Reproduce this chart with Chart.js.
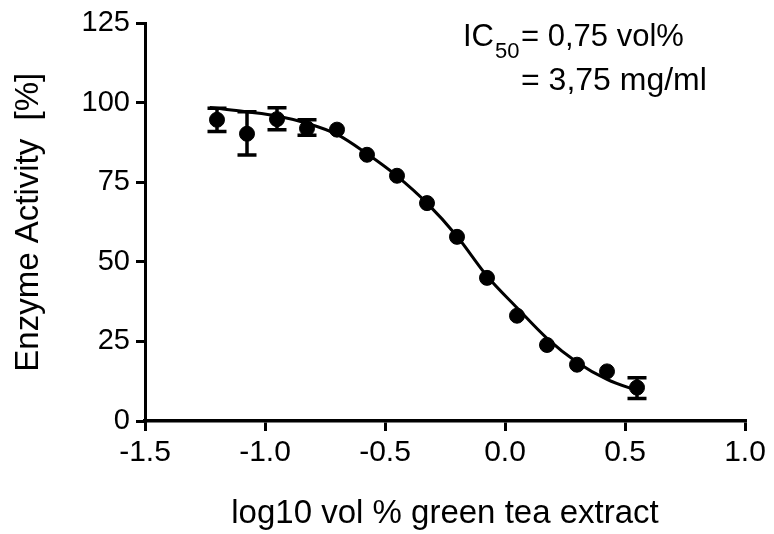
<!DOCTYPE html>
<html>
<head>
<meta charset="utf-8">
<script src="https://cdn.jsdelivr.net/npm/chart.js@4/dist/chart.umd.min.js"></script>
<style>
  html, body { margin: 0; padding: 0; background: #fff; }
  #wrap { width: 774px; height: 534px; }
</style>
</head>
<body>
<div id="wrap"><canvas id="chart" width="774" height="534"></canvas></div>
<script>
// measured points (log10 vol %, activity %)
const logConc = [-1.2, -1.075, -0.95, -0.825, -0.7, -0.575, -0.45, -0.325, -0.2, -0.075, 0.05, 0.175, 0.3, 0.425, 0.55];
const activity = [94.7, 90.3, 94.9, 92.0, 91.6, 83.7, 77.1, 68.5, 57.9, 45.0, 33.1, 23.9, 17.7, 15.6, 10.5];
// error bar ends (null = hidden behind marker)
const errLow  = [91.0, 83.6, 91.6, 89.8, null, null, null, null, null, null, null, null, null, null, 7.1];
const errHigh = [98.3, 97.2, 98.5, 94.7, null, null, null, null, null, null, null, null, null, null, 13.6];

// fitted curve
const fitX = [-1.23, -1.2, -1.075, -0.95, -0.825, -0.7, -0.575, -0.45, -0.325, -0.2, -0.075, 0.05, 0.175, 0.3, 0.425, 0.55, 0.57];
const fitY = [98.6, 98.3, 97.2, 95.9, 93.6, 90.1, 84.0, 77.0, 68.5, 58.1, 45.6, 35.6, 26.0, 18.5, 13.1, 9.6, 9.1];

const xTicks = [-1.5, -1.0, -0.5, 0.0, 0.5, 1.0];
const yTicks = [0, 25, 50, 75, 100, 125];

const FONT = "'Liberation Sans', Arial, sans-serif";

const errorBars = {
    id: 'errorBars',
    afterDatasetsDraw(chart) {
        const { ctx, scales: { x, y } } = chart;
        ctx.save();
        ctx.strokeStyle = '#000';
        ctx.lineWidth = 3.5;
        logConc.forEach((lc, i) => {
            if (errLow[i] == null) return;
            const px = x.getPixelForValue(lc);
            const top = y.getPixelForValue(errHigh[i]);
            const bot = y.getPixelForValue(errLow[i]);
            ctx.beginPath();
            ctx.moveTo(px, top); ctx.lineTo(px, bot);
            ctx.moveTo(px - 9.5, top); ctx.lineTo(px + 9.5, top);
            ctx.moveTo(px - 9.5, bot); ctx.lineTo(px + 9.5, bot);
            ctx.stroke();
        });
        ctx.restore();
    }
};

const ic50Label = {
    id: 'ic50Label',
    afterDraw(chart) {
        const ctx = chart.ctx;
        ctx.save();
        ctx.fillStyle = '#000';
        ctx.textBaseline = 'alphabetic';
        ctx.font = '31px ' + FONT;
        ctx.fillText('IC', 463, 46);
        ctx.fillText('= 0,75 vol%', 521, 46);
        ctx.font = '32px ' + FONT;
        ctx.fillText('= 3,75 mg/ml', 521, 90);
        ctx.font = '22px ' + FONT;
        ctx.fillText('50', 495, 58);
        ctx.restore();
    }
};

new Chart(document.getElementById('chart'), {
    type: 'scatter',
    data: {
        datasets: [
            {
                label: 'data',
                data: logConc.map((v, i) => ({ x: v, y: activity[i] })),
                backgroundColor: '#000',
                borderColor: '#000',
                pointRadius: 7.5,
                pointBorderWidth: 1,
                order: 0
            },
            {
                label: 'fit',
                type: 'line',
                data: fitX.map((v, i) => ({ x: v, y: fitY[i] })),
                borderColor: '#000',
                borderWidth: 3,
                pointRadius: 0,
                fill: false,
                cubicInterpolationMode: 'monotone',
                order: 1
            }
        ]
    },
    options: {
        responsive: false,
        animation: false,
        layout: { padding: { top: 20, right: 29, left: 0, bottom: 0 } },
        plugins: { legend: { display: false }, tooltip: { enabled: false } },
        scales: {
            x: {
                type: 'linear',
                min: -1.5,
                max: 1.0,
                afterBuildTicks: s => { s.ticks = xTicks.map(v => ({ value: v })); },
                afterFit: s => { s.height = 113; },
                border: { display: true, color: '#000', width: 3.5 },
                grid: { drawOnChartArea: false, color: '#000', lineWidth: 3, tickLength: 10 },
                ticks: {
                    color: '#000',
                    padding: 4,
                    font: { family: FONT, size: 30 },
                    callback: v => Number(v).toFixed(1)
                },
                title: {
                    display: true,
                    text: 'log10 vol % green tea extract',
                    color: '#000',
                    font: { family: FONT, size: 33 },
                    padding: { top: 14, bottom: 0 }
                }
            },
            y: {
                min: 0,
                max: 125,
                afterBuildTicks: s => { s.ticks = yTicks.map(v => ({ value: v })); },
                afterFit: s => { s.width = 145; },
                border: { display: true, color: '#000', width: 3 },
                grid: { drawOnChartArea: false, color: '#000', lineWidth: 3, tickLength: 9 },
                ticks: {
                    color: '#000',
                    padding: 6,
                    font: { family: FONT, size: 29 }
                },
                title: {
                    display: true,
                    text: 'Enzyme Activity  [%]',
                    color: '#000',
                    font: { family: FONT, size: 33 },
                    padding: { top: 9, bottom: 0 }
                }
            }
        }
    },
    plugins: [errorBars, ic50Label]
});
</script>
</body>
</html>
